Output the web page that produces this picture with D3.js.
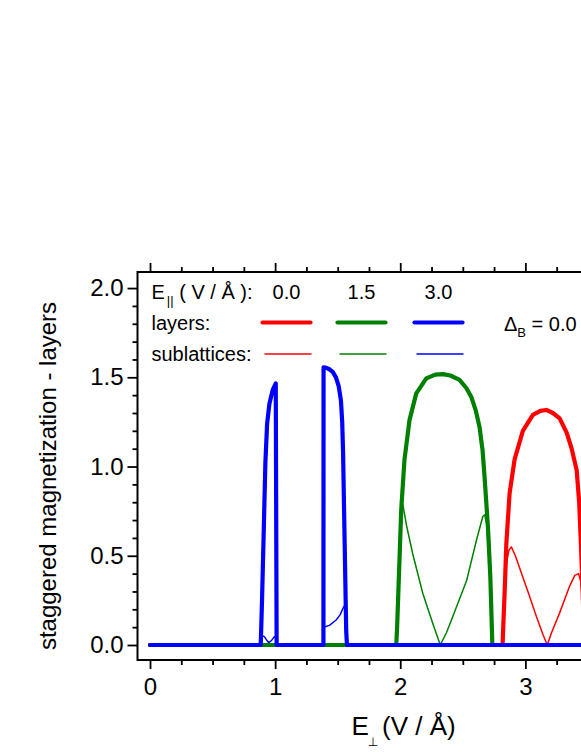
<!DOCTYPE html>
<html>
<head>
<meta charset="utf-8">
<script src="https://cdn.jsdelivr.net/npm/d3@7"></script>
<style>
  body { margin: 0; background: #fff; }
  text { font-family: "Liberation Sans", Arial, sans-serif; fill: #000; }
</style>
</head>
<body>
<div id="chart"></div>
<script>
// Staggered magnetization vs perpendicular field, for three in-plane fields
// points are [E_perp, M]
const fieldLabels = ["0.0", "1.5", "3.0"];

const layers00 = [[0, 0], [2.818, 0], [2.822, 0.08], [2.834, 0.29], [2.848, 0.57], [2.874, 0.85],
  [2.914, 1.04], [2.98, 1.2], [3.06, 1.29], [3.12, 1.312], [3.168, 1.317], [3.22, 1.3],
  [3.274, 1.27], [3.33, 1.19], [3.37, 1.1], [3.41, 0.98], [3.43, 0.8], [3.445, 0.55],
  [3.46, 0.25], [3.47, 0], [4.1, 0]];
const layers15 = [[0, 0], [1.968, 0], [1.975, 0.1], [1.989, 0.38], [2.008, 0.76], [2.034, 1.04],
  [2.074, 1.26], [2.128, 1.41], [2.208, 1.494], [2.28, 1.515], [2.341, 1.518], [2.4, 1.51],
  [2.474, 1.485], [2.528, 1.44], [2.568, 1.39], [2.605, 1.31], [2.634, 1.22], [2.658, 1.09],
  [2.674, 0.94], [2.701, 0.66], [2.72, 0.38], [2.732, 0.1], [2.736, 0], [4.1, 0]];
const layers30 = [[0, 0], [0.885, 0], [0.896, 0.27], [0.909, 0.64], [0.922, 1.02], [0.936, 1.24],
  [0.954, 1.35], [0.981, 1.43], [1.005, 1.466], [1.012, 0], [1.386, 0], [1.387, 1.556],
  [1.41, 1.553], [1.434, 1.545], [1.46, 1.53], [1.486, 1.5], [1.508, 1.45], [1.526, 1.37],
  [1.536, 1.25], [1.543, 1.08], [1.554, 0.64], [1.568, 0.08], [1.574, 0], [4.1, 0]];

const sublattices00 = [[0, 0], [2.822, 0], [2.835, 0.3], [2.85, 0.46], [2.868, 0.53], [2.888, 0.55],
  [2.92, 0.5], [2.98, 0.38], [3.03, 0.28], [3.088, 0.16], [3.14, 0.06], [3.175, 0],
  [3.21, 0.07], [3.274, 0.18], [3.354, 0.33], [3.395, 0.39], [3.425, 0.4], [3.445, 0.35],
  [3.46, 0.2], [3.47, 0], [4.1, 0]];
const sublattices15 = [[0, 0], [1.97, 0], [1.989, 0.38], [2.005, 0.7], [2.02, 0.79], [2.05, 0.67],
  [2.1, 0.51], [2.18, 0.29], [2.26, 0.12], [2.32, 0], [2.37, 0.07], [2.42, 0.16],
  [2.53, 0.36], [2.61, 0.59], [2.66, 0.72], [2.675, 0.73], [2.69, 0.68], [2.72, 0.38],
  [2.736, 0], [4.1, 0]];
const sublattices30 = [[0, 0], [0.885, 0], [0.888, 0.056], [0.9, 0.05], [0.914, 0.047], [0.93, 0.03],
  [0.949, 0.013], [0.962, 0.02], [0.976, 0.03], [0.994, 0.047], [1.005, 0.04], [1.01, 0],
  [1.386, 0], [1.387, 0.1], [1.434, 0.11], [1.488, 0.14], [1.52, 0.17], [1.545, 0.21],
  [1.555, 0.22], [1.572, 0], [4.1, 0]];

const yMajor = [0, 0.5, 1.0, 1.5, 2.0];
const xMajor = [0, 1, 2, 3, 4];
const xLabelled = [0, 1, 2, 3]; // 4 falls outside the window

const colors = ["#ff0000", "#008000", "#0000ff"];

const W = 581, H = 752;
const margin = { top: 272, left: 137.5, bottom: 92 };
const plotRight = 663;

const svg = d3.select("#chart").append("svg")
  .attr("width", W)
  .attr("height", H);

const x = d3.scaleLinear().domain([-0.1, 4.1]).range([margin.left, plotRight]);
const y = d3.scaleLinear().domain([-0.084, 2.09]).range([H - margin.bottom, margin.top]);

svg.append("clipPath").attr("id", "plot-clip")
  .append("rect")
  .attr("x", margin.left).attr("y", margin.top)
  .attr("width", plotRight - margin.left)
  .attr("height", H - margin.bottom - margin.top);

// ticks
const yMinor = d3.range(0, 2.05, 0.1).filter(v => !yMajor.some(m => Math.abs(m - v) < 1e-6));
const xMinor = d3.range(0, 4.05, 0.25).filter(v => !xMajor.some(m => Math.abs(m - v) < 1e-6));

function styleAxis(g) {
  g.select(".domain").remove();
  g.selectAll(".tick line").attr("stroke", "#000").attr("stroke-width", 1.8);
  g.selectAll(".tick text").style("font-family", "'Liberation Sans', Arial, sans-serif")
    .style("font-size", "24px").attr("fill", "#000");
}

svg.append("g")
  .attr("transform", `translate(${margin.left},0)`)
  .call(d3.axisLeft(y).tickValues(yMajor).tickFormat(d3.format(".1f")).tickSize(10).tickPadding(4))
  .call(styleAxis);
svg.append("g")
  .attr("transform", `translate(${margin.left},0)`)
  .call(d3.axisLeft(y).tickValues(yMinor).tickFormat("").tickSize(5))
  .call(styleAxis);

svg.append("g")
  .attr("transform", `translate(0,${H - margin.bottom})`)
  .call(d3.axisBottom(x).tickValues(xLabelled).tickFormat(d3.format("d")).tickSize(9).tickPadding(9))
  .call(styleAxis);
svg.append("g")
  .attr("transform", `translate(0,${H - margin.bottom})`)
  .call(d3.axisBottom(x).tickValues(xMinor).tickFormat("").tickSize(5))
  .call(styleAxis);

svg.append("g")
  .attr("transform", `translate(0,${margin.top})`)
  .call(d3.axisTop(x).tickValues(xMajor).tickFormat("").tickSize(9))
  .call(styleAxis);
svg.append("g")
  .attr("transform", `translate(0,${margin.top})`)
  .call(d3.axisTop(x).tickValues(xMinor).tickFormat("").tickSize(5))
  .call(styleAxis);

// curves
const line = d3.line()
  .x(d => x(d[0]))
  .y(d => y(d[1]));

const plot = svg.append("g").attr("clip-path", "url(#plot-clip)");

[sublattices00, sublattices15, sublattices30].forEach((s, i) => {
  plot.append("path")
    .datum(s)
    .attr("fill", "none")
    .attr("stroke", colors[i])
    .attr("stroke-width", 1.5)
    .attr("stroke-linejoin", "round")
    .attr("d", line);
});
[layers00, layers15, layers30].forEach((s, i) => {
  plot.append("path")
    .datum(s)
    .attr("fill", "none")
    .attr("stroke", colors[i])
    .attr("stroke-width", 4.2)
    .attr("stroke-linecap", "round")
    .attr("stroke-linejoin", "round")
    .attr("d", line);
});

// frame
svg.append("rect")
  .attr("x", margin.left).attr("y", margin.top)
  .attr("width", plotRight - margin.left)
  .attr("height", H - margin.bottom - margin.top)
  .attr("fill", "none")
  .attr("stroke", "#000")
  .attr("stroke-width", 2);

// axis labels
svg.append("text")
  .attr("transform", "translate(56,476) rotate(-90)")
  .attr("text-anchor", "middle")
  .style("font-size", "24px")
  .text("staggered magnetization - layers");

svg.append("text").attr("x", 351.5).attr("y", 735).style("font-size", "26px").text("E");
svg.append("text").attr("x", 373).attr("y", 746).attr("text-anchor", "middle")
  .style("font-family", "'DejaVu Sans', sans-serif").style("font-size", "12px").text("⊥");
svg.append("text").attr("x", 382).attr("y", 735).style("font-size", "26px").text("(V / Å)");

// legend
const lg = svg.append("g");
const header = lg.append("text").attr("x", 151.5).attr("y", 299).style("font-size", "20px");
header.append("tspan").text("E");
header.append("tspan").attr("dx", 2).attr("dy", 6).style("font-size", "13px").text("||");
header.append("tspan").attr("dy", -6).text(" ( V / Å ):");

const legendX = [286.5, 361.5, 438.5];
fieldLabels.forEach((lab, i) => {
  lg.append("text").attr("x", legendX[i]).attr("y", 299)
    .attr("text-anchor", "middle").style("font-size", "20px").text(lab);
  lg.append("line")
    .attr("x1", legendX[i] - 24).attr("x2", legendX[i] + 24)
    .attr("y1", 322.5).attr("y2", 322.5)
    .attr("stroke", colors[i]).attr("stroke-width", 4.2).attr("stroke-linecap", "round");
  lg.append("line")
    .attr("x1", legendX[i] - 22).attr("x2", legendX[i] + 25)
    .attr("y1", 354).attr("y2", 354)
    .attr("stroke", colors[i]).attr("stroke-width", 1.5);
});
lg.append("text").attr("x", 151.5).attr("y", 330).style("font-size", "20px").text("layers:");
lg.append("text").attr("x", 151.5).attr("y", 361).style("font-size", "20px").text("sublattices:");

const db = lg.append("text").attr("x", 504).attr("y", 331).style("font-size", "20px");
db.append("tspan").text("Δ");
db.append("tspan").attr("dy", 6).style("font-size", "13px").text("B");
db.append("tspan").attr("dy", -6).text(" = 0.0");
</script>
</body>
</html>
